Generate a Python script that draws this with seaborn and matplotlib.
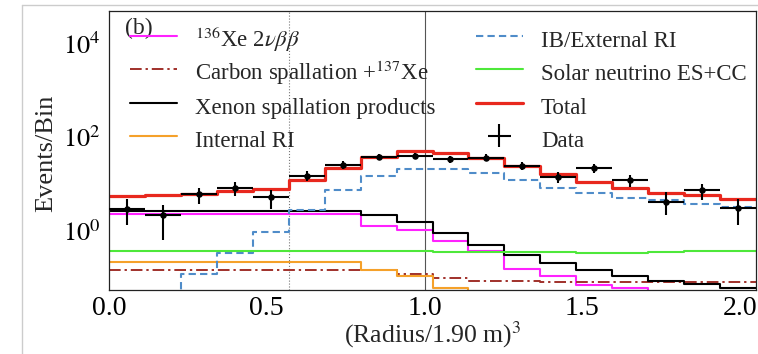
import numpy as np
import pandas as pd
import matplotlib
matplotlib.use("Agg")
import matplotlib.pyplot as plt
import seaborn as sns
from matplotlib.lines import Line2D
from matplotlib.ticker import FixedLocator, LogLocator, NullFormatter, MultipleLocator, FixedFormatter

# ---------------- data ----------------
x_min, x_max, n_bins = 0.0, 2.05, 18

xe136_2nbb = [2.27, 2.27, 2.27, 2.27, 2.27, 2.27, 2.27, 1.2, 1.0, 0.59, 0.35, 0.146,
              0.102, 0.068, 0.057, 0.03, 0.03, 0.03]
carbon_spall = [0.14, 0.14, 0.14, 0.14, 0.14, 0.14, 0.14, 0.138, 0.114, 0.094, 0.08, 0.08,
                0.079, 0.078, 0.078, 0.078, 0.078, 0.078]
xenon_spall = [2.6, 2.6, 2.6, 2.6, 2.6, 2.6, 2.6, 2.08, 1.5, 0.88, 0.48, 0.29,
               0.195, 0.141, 0.105, 0.083, 0.07, 0.056]
internal_ri = [0.205, 0.205, 0.205, 0.205, 0.205, 0.205, 0.205, 0.141, 0.103, 0.058, 0.02, 0.02,
               0.02, 0.02, 0.02, 0.02, 0.02, 0.02]
external_ri = [0.02, 0.02, 0.115, 0.32, 0.89, 2.66, 7.3, 14.8, 20.5, 20.5, 16.4, 11.6,
               8.1, 6.3, 5.0, 4.35, 3.6, 3.1]
solar_nu = [0.36, 0.36, 0.36, 0.36, 0.36, 0.36, 0.36, 0.36, 0.355, 0.335, 0.335, 0.335,
            0.335, 0.33, 0.33, 0.34, 0.35, 0.36]
total = [5.5, 5.7, 6.1, 6.8, 7.7, 11.6, 22, 37.5, 49, 46, 36, 24,
         16, 10.7, 7.9, 6.2, 5.6, 4.7]
data_counts = [2.9, 2.1, 6.0, 7.9, 5.1, 14.8, 25, 37.5, 38.9, 33.5, 36, 24,
               14.1, 21, 12, 4.0, 7.1, 3.0]
data_err_lo = [1.6, 1.5, 2.4, 2.6, 2.3, 3.6, 5.0, 6.0, 6.0, 5.8, 6.0, 4.9,
               3.8, 4.6, 3.5, 1.9, 2.75, 1.7]
data_err_hi = [1.85, 1.3, 2.1, 2.8, 2.2, 3.5, 5.0, 6.0, 6.0, 5.8, 6.0, 4.9,
               3.8, 4.6, 3.5, 2.5, 2.7, 1.7]

series_labels = [r"$^{136}$Xe 2$\nu\beta\beta$", r"Carbon spallation +$^{137}$Xe",
                 "Xenon spallation products", "Internal RI", "IB/External RI",
                 "Solar neutrino ES+CC", "Total"]
x_label = r"(Radius/1.90 m)$^{3}$"
y_label = "Events/Bin"
x_tick_values = [0.0, 0.5, 1.0, 1.5, 2.0]
x_tick_labels = ["0.0", "0.5", "1.0", "1.5", "2.0"]
y_tick_values = [1.0, 100.0, 1.0e4]
y_tick_labels = [r"$10^{0}$", r"$10^{2}$", r"$10^{4}$"]
fiducial_lines = [0.57, 1.0]

# ---------------- style ----------------
sns.set_style("white")
plt.rcParams["font.family"] = ["Liberation Serif", "DejaVu Serif"]
plt.rcParams["mathtext.fontset"] = "stix"

edges = np.linspace(x_min, x_max, n_bins + 1)
centers = 0.5 * (edges[:-1] + edges[1:])
width = edges[1] - edges[0]

df = pd.DataFrame({
    "center": centers,
    "xe136": xe136_2nbb, "carbon": carbon_spall, "xenon": xenon_spall,
    "internal": internal_ri, "external": external_ri, "solar": solar_nu,
    "total": total, "data": data_counts,
})

fig = plt.figure(figsize=(7.58, 3.54), dpi=100)
ax = fig.add_axes([109 / 758, 1 - 290 / 354, (756 - 109) / 758, (290 - 11) / 354])
ax.set_yscale("log")

styles = [
    ("xe136", "#ff22ff", "-", 1.5),
    ("carbon", "#a0302a", (0, (6, 2, 1.2, 2)), 1.4),
    ("xenon", "#000000", "-", 1.5),
    ("internal", "#f5a12a", "-", 1.5),
    ("external", "#4f8cc9", (0, (3.5, 2)), 1.5),
    ("solar", "#4ee83a", "-", 1.5),
    ("total", "#e8281e", "-", 2.3),
]
handles = []
for (col, color, ls, lw), lab in zip(styles, series_labels):
    sns.histplot(data=df, x="center", weights=col, bins=n_bins, binrange=(x_min, x_max),
                 element="step", fill=False, color=color, linestyle=ls, linewidth=lw, ax=ax)
    handles.append(Line2D([], [], color=color, linestyle=ls, linewidth=lw, label=lab))

# data points
sns.scatterplot(data=df, x="center", y="data", color="black", s=22, edgecolor="black",
                linewidth=0, zorder=6, ax=ax, legend=False)
eb = ax.errorbar(df["center"], df["data"], xerr=width / 2,
                 yerr=[data_err_lo, data_err_hi], fmt="none", ecolor="black",
                 elinewidth=1.5, capsize=0, zorder=5, label="Data")

for xv, ls, c in zip(fiducial_lines, [":", "-"], ["#777777", "#555555"]):
    ax.axvline(xv, color=c, linestyle=ls, linewidth=0.8, zorder=1)

ax.set_xlim(x_min, x_max)
ax.set_ylim(0.052, 5.0e4)
ax.set_xlabel(x_label, fontsize=18.5)
ax.set_ylabel(y_label, fontsize=19)
ax.xaxis.set_label_coords(0.5, -0.104)
ax.yaxis.set_label_coords(-0.08, 0.49)

ax.xaxis.set_major_locator(FixedLocator(x_tick_values))
ax.xaxis.set_major_formatter(FixedFormatter(x_tick_labels))
ax.xaxis.set_minor_locator(MultipleLocator(0.1))
ax.yaxis.set_major_locator(FixedLocator(y_tick_values))
ax.yaxis.set_major_formatter(FixedFormatter(y_tick_labels))
ax.yaxis.set_minor_locator(LogLocator(base=10, subs=np.arange(1, 10), numticks=20))
ax.yaxis.set_minor_formatter(NullFormatter())
ax.tick_params(axis="both", which="both", direction="in", top=False, right=False,
               colors="black")
ax.tick_params(axis="x", which="major", labelsize=20, pad=4)
ax.tick_params(axis="y", which="major", labelsize=19, pad=6)
ax.tick_params(axis="both", which="major", length=9, width=0.9)
ax.tick_params(axis="both", which="minor", length=5, width=0.7)

for sp in ax.spines.values():
    sp.set_color("#222222")
    sp.set_linewidth(0.9)

leg_handles = handles + [eb]
leg_labels = series_labels + ["Data"]
ax.legend(leg_handles, leg_labels, ncol=2, loc="upper left",
          bbox_to_anchor=(0.032, 0.952), frameon=False, fontsize=16.5,
          handlelength=2.05, handleheight=1.6, handletextpad=0.8, columnspacing=1.75,
          labelspacing=0.17, borderpad=0, borderaxespad=0)

ax.text(0.025, 0.975, "(b)", transform=ax.transAxes, fontsize=17,
        ha="left", va="top")

# outer light frame of the reference picture
fig.add_artist(Line2D([22 / 758, 1.0], [1 - 5 / 354, 1 - 5 / 354],
                      transform=fig.transFigure, color="#cccccc", linewidth=1))
fig.add_artist(Line2D([22 / 758, 22 / 758], [0, 1 - 5 / 354],
                      transform=fig.transFigure, color="#cccccc", linewidth=1))

fig.savefig("out.png", dpi=100)
